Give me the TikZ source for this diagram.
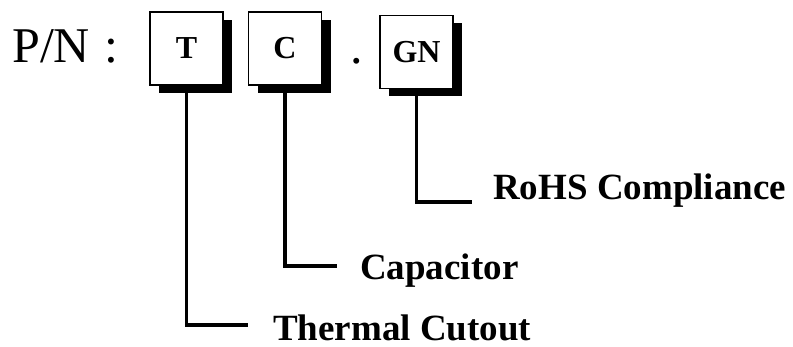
\documentclass[tikz,border=0pt]{standalone}
\usepackage{fontspec}
\setmainfont{Liberation Serif}
\usetikzlibrary{shadows}

\begin{document}
\begin{tikzpicture}[x=1pt, y=-1pt,
		codebox/.style={draw, line width=1.5pt, fill=white, minimum size=73pt, inner sep=0pt,
			font=\fontsize{32}{38}\selectfont\bfseries,
			drop shadow={shadow xshift=9pt, shadow yshift=-8pt, fill=black, opacity=1}},
		lead/.style={line width=3.5pt},
		desc/.style={anchor=base west, inner sep=0pt, font=\fontsize{37}{44}\selectfont\bfseries}]
		
		\useasboundingbox (0,0) rectangle (793,347);
		
		% Part number
		\node[anchor=base west, inner sep=0pt, font=\fontsize{50}{60}\selectfont] (pn) at (12,63) {P/N\hspace{14pt}:};
		\node[anchor=base, inner sep=0pt, font=\fontsize{50}{60}\selectfont] (dot) at (357,64) {.};
		
		% Boxes
		\node[codebox] (tbox) at (186.5,48.5) {T};
		\node[codebox] (cbox) at (285,48.5) {C};
		\node[codebox] (gnbox) at (416.5,52) {GN};
		
		% Descriptions
		\node[desc] (tlabel) at (273,341) {Thermal Cutout};
		\node[desc] (clabel) at (360,280) {Capacitor};
		\node[desc] (gnlabel) at (493,200) {RoHS Compliance};
		
		% Leader ends
		\coordinate (tend) at (248,325);
		\coordinate (cend) at (337,266);
		\coordinate (gnend) at (472,202);
		
		% Leaders
		\draw[lead] (tbox.south) |- (tend);
		\draw[lead] (cbox.south) |- (cend);
		\draw[lead] (gnbox.south) |- (gnend);
		
	\end{tikzpicture}
\end{document}
